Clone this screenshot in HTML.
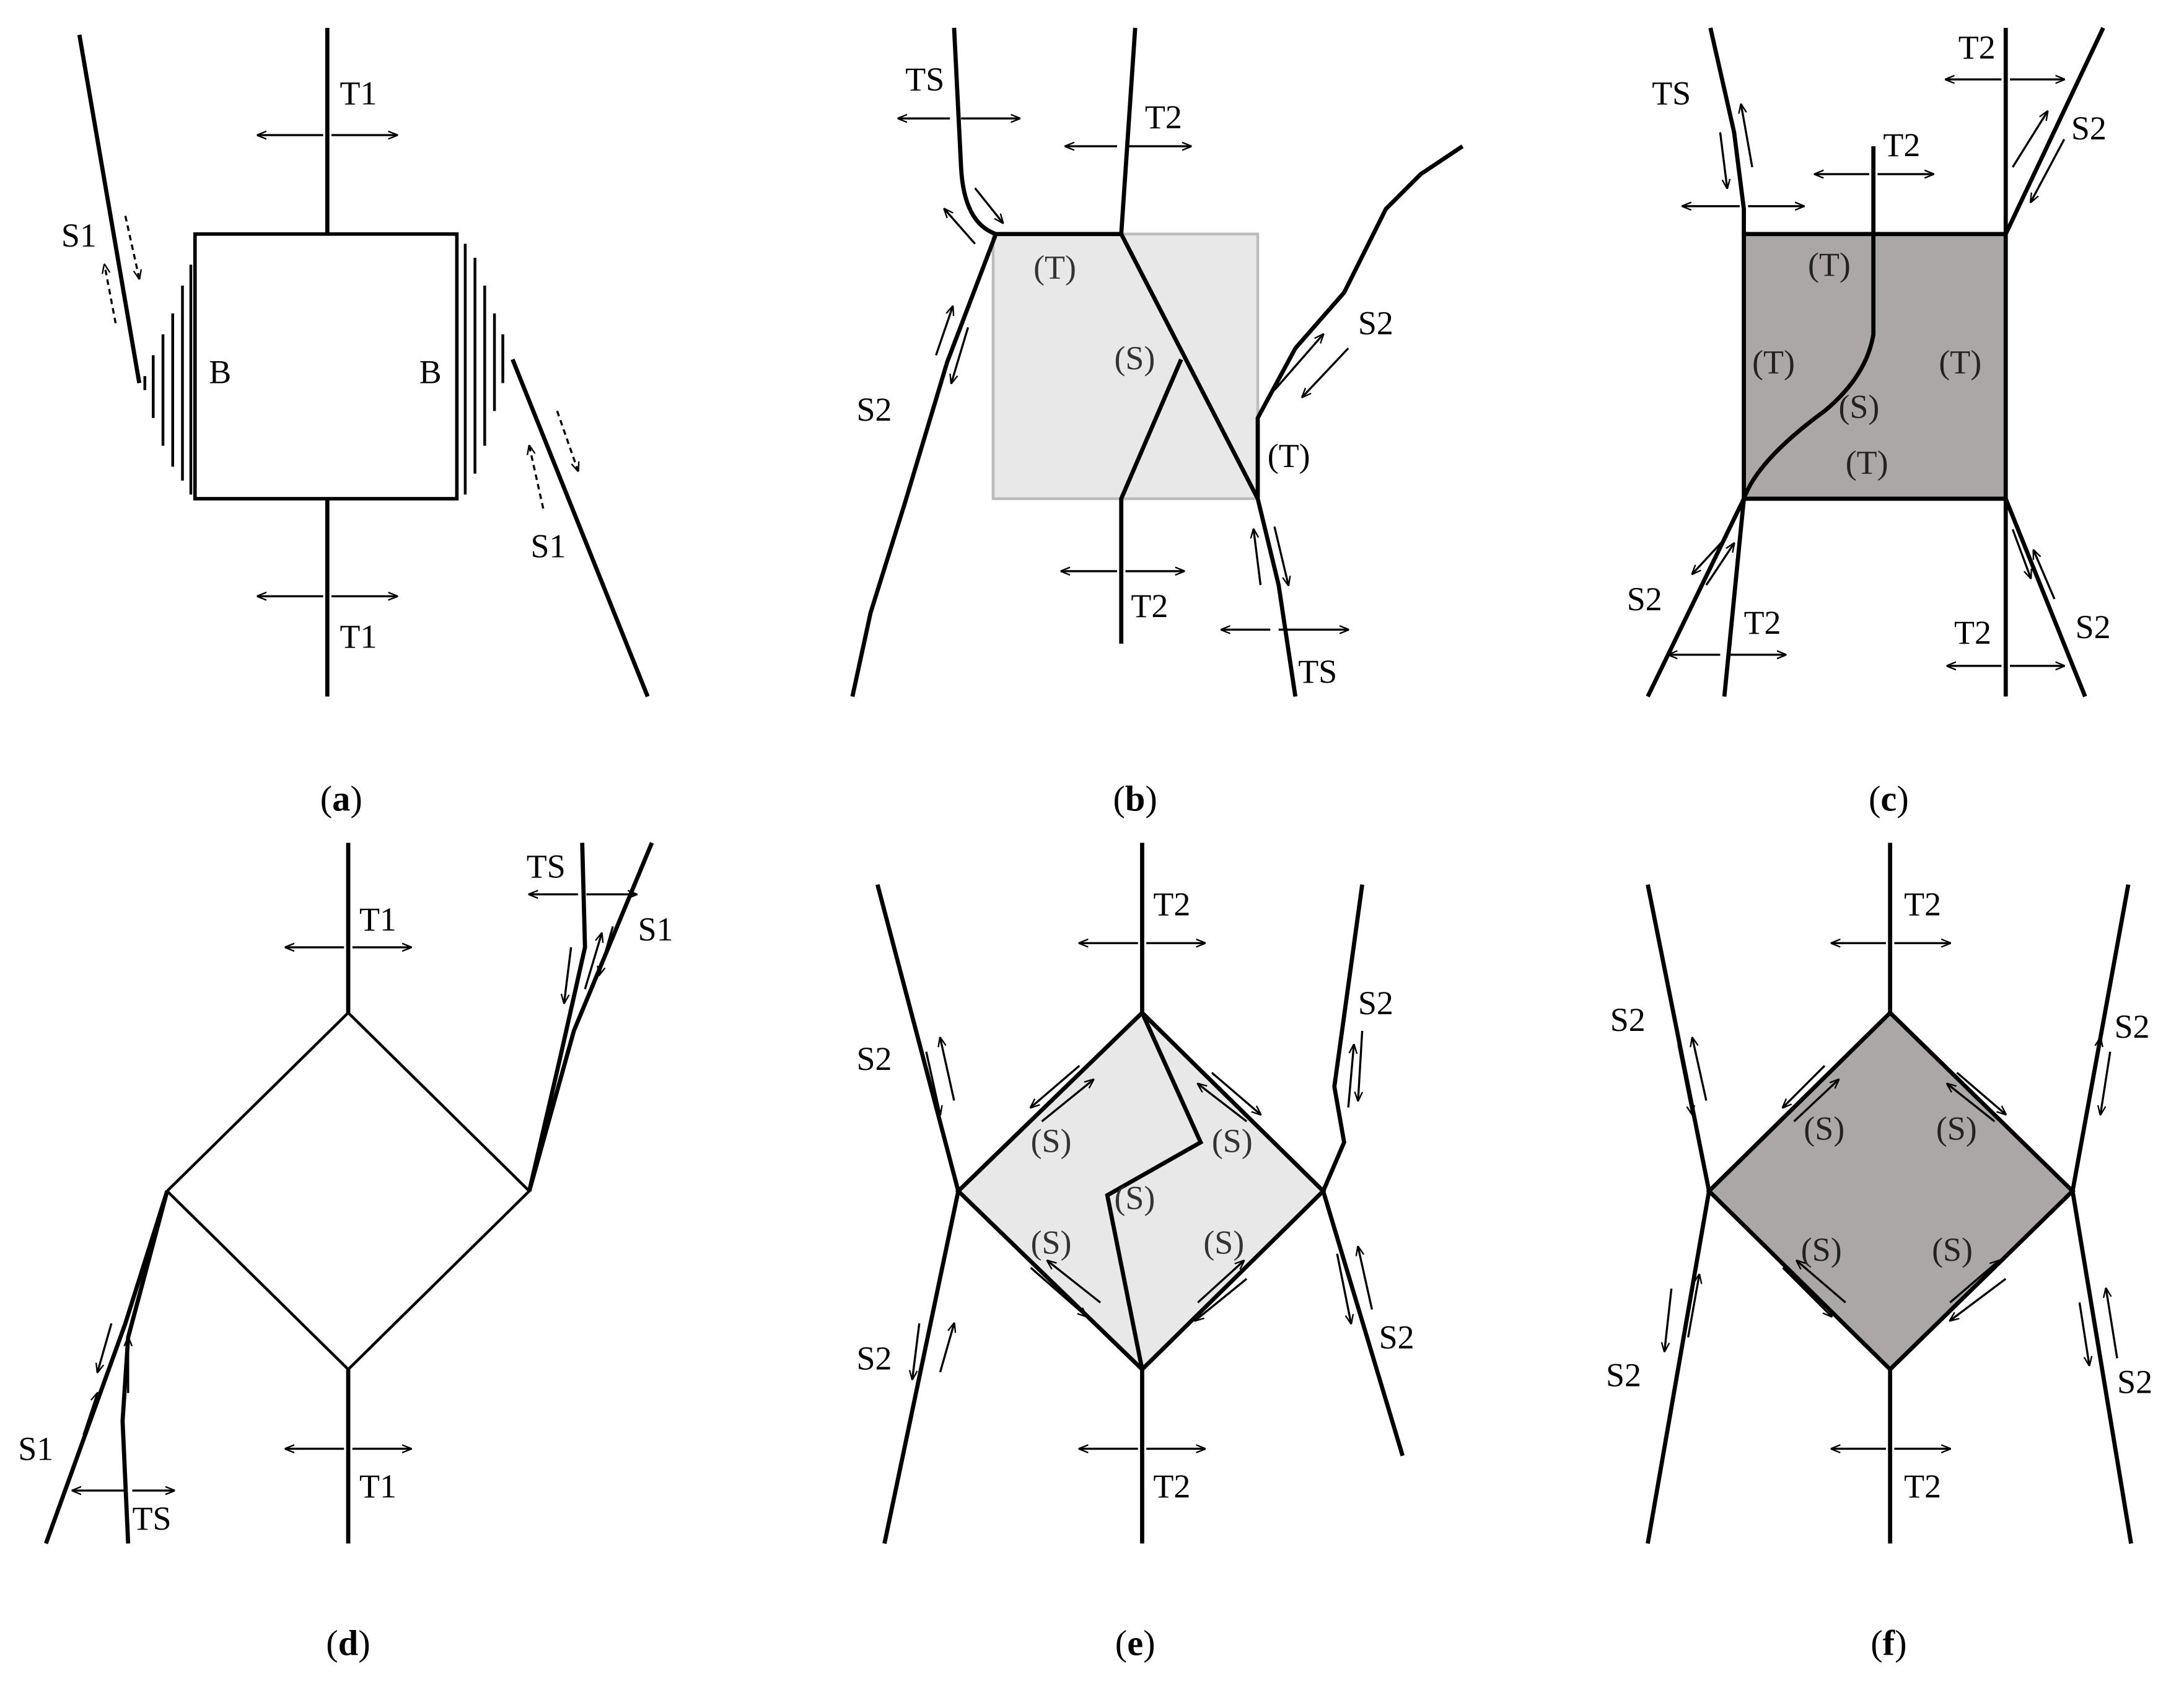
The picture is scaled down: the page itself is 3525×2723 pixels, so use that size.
<!DOCTYPE html>
<html><head><style>html,body{margin:0;padding:0;background:#fff}svg{display:block}</style></head>
<body>
<svg width="3525" height="2723" viewBox="0 0 1568 1211" preserveAspectRatio="none" xmlns="http://www.w3.org/2000/svg" font-family="Liberation Serif, serif" font-size="24">
<defs>
<marker id="ah" viewBox="0 0 10 10" refX="9" refY="5" markerWidth="7" markerHeight="7" orient="auto-start-reverse" markerUnits="userSpaceOnUse"><path d="M0,1 L10,5 L0,9" fill="none" stroke="#000" stroke-width="1.5"/></marker>
</defs>
<rect width="1568" height="1211" fill="#fff"/>
<g stroke="#000" fill="none" stroke-width="3">
<!-- (a) -->
<rect x="140" y="168" width="188" height="190" stroke-width="2.5"/>
<line x1="235" y1="20" x2="235" y2="168"/><line x1="235" y1="358" x2="235" y2="500"/>
<path d="M57,25 L100,275"/><path d="M368,258 L465,500"/>
<g stroke-width="2"><path d="M104,270 L104,280 M110,255 L110,300 M117,240 L117,320 M124,225 L124,335 M131,205 L131,345 M137,190 L137,355"/>
<path d="M334,175 L334,355 M341,185 L341,340 M348,205 L348,320 M355,225 L355,295 M361,240 L361,275"/></g>
</g>
<g stroke="#000" stroke-width="1.5" fill="none" marker-end="url(#ah)">
<line x1="232" y1="97" x2="185" y2="97"/><line x1="238" y1="97" x2="285" y2="97"/>
<line x1="232" y1="428" x2="185" y2="428"/><line x1="238" y1="428" x2="285" y2="428"/>
<line x1="90" y1="155" x2="100" y2="200" stroke-dasharray="4,3"/><line x1="83" y1="232" x2="75" y2="190" stroke-dasharray="4,3"/>
<line x1="390" y1="365" x2="380" y2="320" stroke-dasharray="4,3"/><line x1="400" y1="295" x2="415" y2="338" stroke-dasharray="4,3"/>
</g>
<text x="244" y="75">T1</text><text x="244" y="465">T1</text><text x="44" y="177">S1</text><text x="381" y="400">S1</text>
<text x="150" y="275">B</text><text x="301" y="275">B</text>

<!-- (b) -->
<rect x="713" y="168" width="190" height="190" fill="#e8e8e8" stroke="#bbb" stroke-width="2"/>
<g stroke="#000" fill="none" stroke-width="3">
<path d="M685,20 L690,120 Q692,160 715,168 L805,168 L815,20"/>
<path d="M805,168 L903,358"/><path d="M848,258 L805,358 L805,462"/>
<path d="M903,358 L903,300 L930,250 L965,210 L995,150 L1020,125 L1050,105"/>
<path d="M903,358 L918,420 L930,500"/>
<path d="M715,168 L680,260 L650,360 L625,440 L612,500"/>
</g>
<g stroke="#000" stroke-width="1.5" marker-end="url(#ah)">
<line x1="682" y1="85" x2="645" y2="85"/><line x1="690" y1="85" x2="732" y2="85"/>
<line x1="802" y1="105" x2="765" y2="105"/><line x1="808" y1="105" x2="855" y2="105"/>
<line x1="802" y1="410" x2="762" y2="410"/><line x1="808" y1="410" x2="850" y2="410"/>
<line x1="912" y1="452" x2="877" y2="452"/><line x1="918" y1="452" x2="968" y2="452"/>
<line x1="700" y1="135" x2="720" y2="160"/><line x1="700" y1="175" x2="678" y2="150"/>
<line x1="672" y1="255" x2="684" y2="220"/><line x1="695" y1="235" x2="683" y2="275"/>
<line x1="915" y1="280" x2="950" y2="240"/><line x1="968" y1="250" x2="935" y2="285"/>
<line x1="905" y1="420" x2="900" y2="380"/><line x1="915" y1="378" x2="925" y2="420"/>
</g>
<text x="650" y="65">TS</text><text x="822" y="92">T2</text><text x="812" y="443">T2</text><text x="932" y="490">TS</text>
<text x="615" y="302">S2</text><text x="975" y="240">S2</text>
<text x="742" y="200" fill="#333">(T)</text><text x="800" y="265" fill="#333">(S)</text><text x="910" y="335">(T)</text>

<!-- (c) -->
<rect x="1252" y="168" width="188" height="190" fill="#aaa7a6" stroke="#000" stroke-width="3"/>
<g stroke="#000" fill="none" stroke-width="3">
<path d="M1228,20 L1245,95 L1252,150 L1252,168"/><path d="M1440,20 L1440,168"/><path d="M1440,168 L1510,20"/>
<path d="M1345,105 L1345,240 Q1340,270 1310,295 Q1262,330 1252,358"/>
<path d="M1252,358 L1183,500"/><path d="M1252,358 L1238,500"/>
<path d="M1440,358 L1440,500"/><path d="M1440,358 L1497,500"/>
</g>
<g stroke="#000" stroke-width="1.5" marker-end="url(#ah)">
<line x1="1437" y1="57" x2="1397" y2="57"/><line x1="1443" y1="57" x2="1482" y2="57"/>
<line x1="1342" y1="125" x2="1303" y2="125"/><line x1="1348" y1="125" x2="1388" y2="125"/>
<line x1="1249" y1="148" x2="1208" y2="148"/><line x1="1255" y1="148" x2="1295" y2="148"/>
<line x1="1235" y1="470" x2="1198" y2="470"/><line x1="1241" y1="470" x2="1282" y2="470"/>
<line x1="1437" y1="478" x2="1398" y2="478"/><line x1="1443" y1="478" x2="1482" y2="478"/>
<line x1="1235" y1="95" x2="1240" y2="135"/><line x1="1258" y1="120" x2="1250" y2="75"/>
<line x1="1445" y1="120" x2="1470" y2="80"/><line x1="1482" y1="100" x2="1458" y2="145"/>
<line x1="1240" y1="385" x2="1215" y2="412"/><line x1="1225" y1="420" x2="1245" y2="390"/>
<line x1="1445" y1="380" x2="1458" y2="415"/><line x1="1475" y1="430" x2="1460" y2="395"/>
</g>
<text x="1186" y="75">TS</text><text x="1406" y="42">T2</text><text x="1352" y="112">T2</text><text x="1487" y="100">S2</text>
<text x="1168" y="438">S2</text><text x="1252" y="455">T2</text><text x="1403" y="462">T2</text><text x="1490" y="458">S2</text>
<text x="1298" y="198" fill="#222">(T)</text><text x="1258" y="268" fill="#222">(T)</text><text x="1392" y="268" fill="#222">(T)</text><text x="1320" y="300" fill="#222">(S)</text><text x="1325" y="340" fill="#222">(T)</text>

<!-- (d) -->
<g stroke="#000" fill="none" stroke-width="3">
<path d="M250,727 L380,855 L250,983 L120,855 Z" stroke-width="2"/>
<line x1="250" y1="605" x2="250" y2="727"/><line x1="250" y1="983" x2="250" y2="1108"/>
<path d="M380,855 L402,760 L420,680 L418,605"/><path d="M380,855 L412,740 L468,605"/>
<path d="M120,855 L90,950 L33,1108"/><path d="M120,855 L92,960 L88,1020 L92,1108"/>
</g>
<g stroke="#000" stroke-width="1.5" marker-end="url(#ah)">
<line x1="247" y1="680" x2="205" y2="680"/><line x1="253" y1="680" x2="295" y2="680"/>
<line x1="247" y1="1040" x2="205" y2="1040"/><line x1="253" y1="1040" x2="295" y2="1040"/>
<line x1="415" y1="642" x2="380" y2="642"/><line x1="421" y1="642" x2="457" y2="642"/>
<line x1="89" y1="1070" x2="52" y2="1070"/><line x1="95" y1="1070" x2="125" y2="1070"/>
<line x1="410" y1="680" x2="405" y2="720"/><line x1="420" y1="710" x2="432" y2="670"/><line x1="440" y1="665" x2="430" y2="700"/>
<line x1="80" y1="950" x2="70" y2="985"/><line x1="60" y1="1030" x2="70" y2="1000"/><line x1="92" y1="1000" x2="92" y2="960"/>
</g>
<text x="258" y="668">T1</text><text x="258" y="1075">T1</text><text x="378" y="630">TS</text><text x="458" y="675">S1</text>
<text x="13" y="1048">S1</text><text x="95" y="1098">TS</text>

<!-- (e) -->
<path d="M820,727 L950,855 L820,983 L688,855 Z" fill="#e8e8e8" stroke="#000" stroke-width="3"/>
<g stroke="#000" fill="none" stroke-width="3">
<line x1="820" y1="605" x2="820" y2="727"/><line x1="820" y1="983" x2="820" y2="1108"/>
<path d="M820,727 L862,820 L795,858 L820,983"/>
<path d="M688,855 L630,635"/><path d="M688,855 L635,1108"/>
<path d="M950,855 L965,820 L958,780 L978,635"/><path d="M950,855 L1007,1045"/>
</g>
<g stroke="#000" stroke-width="1.5" marker-end="url(#ah)">
<line x1="817" y1="677" x2="775" y2="677"/><line x1="823" y1="677" x2="865" y2="677"/>
<line x1="817" y1="1040" x2="775" y2="1040"/><line x1="823" y1="1040" x2="865" y2="1040"/>
<line x1="775" y1="765" x2="740" y2="795"/><line x1="748" y1="805" x2="785" y2="775"/>
<line x1="870" y1="770" x2="905" y2="800"/><line x1="895" y1="805" x2="860" y2="778"/>
<line x1="740" y1="910" x2="780" y2="945"/><line x1="790" y1="935" x2="752" y2="905"/>
<line x1="860" y1="935" x2="893" y2="905"/><line x1="895" y1="918" x2="858" y2="948"/>
<line x1="665" y1="755" x2="675" y2="800"/><line x1="685" y1="790" x2="675" y2="745"/>
<line x1="660" y1="950" x2="655" y2="990"/><line x1="675" y1="985" x2="685" y2="950"/>
<line x1="968" y1="795" x2="972" y2="750"/><line x1="978" y1="740" x2="975" y2="790"/>
<line x1="960" y1="900" x2="970" y2="950"/><line x1="985" y1="940" x2="975" y2="895"/>
</g>
<text x="828" y="657">T2</text><text x="828" y="1075">T2</text>
<text x="615" y="768">S2</text><text x="975" y="728">S2</text><text x="615" y="983">S2</text><text x="990" y="968">S2</text>
<text x="740" y="827" fill="#333">(S)</text><text x="870" y="827" fill="#333">(S)</text><text x="800" y="868" fill="#333">(S)</text>
<text x="740" y="900" fill="#333">(S)</text><text x="864" y="900" fill="#333">(S)</text>

<!-- (f) -->
<path d="M1357,727 L1488,855 L1357,983 L1227,855 Z" fill="#aaa7a6" stroke="#000" stroke-width="3"/>
<g stroke="#000" fill="none" stroke-width="3">
<line x1="1357" y1="605" x2="1357" y2="727"/><line x1="1357" y1="983" x2="1357" y2="1108"/>
<path d="M1227,855 L1183,635"/><path d="M1227,855 L1183,1108"/>
<path d="M1488,855 L1528,635"/><path d="M1488,855 L1530,1108"/>
</g>
<g stroke="#000" stroke-width="1.5" marker-end="url(#ah)">
<line x1="1354" y1="677" x2="1315" y2="677"/><line x1="1360" y1="677" x2="1400" y2="677"/>
<line x1="1354" y1="1040" x2="1315" y2="1040"/><line x1="1360" y1="1040" x2="1400" y2="1040"/>
<line x1="1310" y1="765" x2="1280" y2="795"/><line x1="1288" y1="805" x2="1320" y2="775"/>
<line x1="1405" y1="770" x2="1440" y2="800"/><line x1="1432" y1="805" x2="1398" y2="778"/>
<line x1="1280" y1="910" x2="1315" y2="945"/><line x1="1325" y1="935" x2="1290" y2="905"/>
<line x1="1400" y1="935" x2="1435" y2="905"/><line x1="1440" y1="918" x2="1400" y2="948"/>
<line x1="1205" y1="750" x2="1215" y2="800"/><line x1="1225" y1="790" x2="1215" y2="745"/>
<line x1="1200" y1="925" x2="1195" y2="970"/><line x1="1212" y1="960" x2="1220" y2="915"/>
<line x1="1500" y1="790" x2="1508" y2="745"/><line x1="1515" y1="755" x2="1508" y2="800"/>
<line x1="1493" y1="935" x2="1500" y2="980"/><line x1="1520" y1="975" x2="1512" y2="925"/>
</g>
<text x="1367" y="657">T2</text><text x="1367" y="1075">T2</text>
<text x="1156" y="740">S2</text><text x="1518" y="745">S2</text><text x="1153" y="995">S2</text><text x="1520" y="1000">S2</text>
<text x="1295" y="818" fill="#222">(S)</text><text x="1390" y="818" fill="#222">(S)</text>
<text x="1293" y="905" fill="#222">(S)</text><text x="1387" y="905" fill="#222">(S)</text>

<!-- captions -->
<g font-size="26" text-anchor="middle">
<text x="245" y="582">(<tspan font-weight="bold">a</tspan>)</text>
<text x="815" y="582">(<tspan font-weight="bold">b</tspan>)</text>
<text x="1356" y="582">(<tspan font-weight="bold">c</tspan>)</text>
<text x="250" y="1188">(<tspan font-weight="bold">d</tspan>)</text>
<text x="815" y="1188">(<tspan font-weight="bold">e</tspan>)</text>
<text x="1356" y="1188">(<tspan font-weight="bold">f</tspan>)</text>
</g>
</svg>
</body></html>
